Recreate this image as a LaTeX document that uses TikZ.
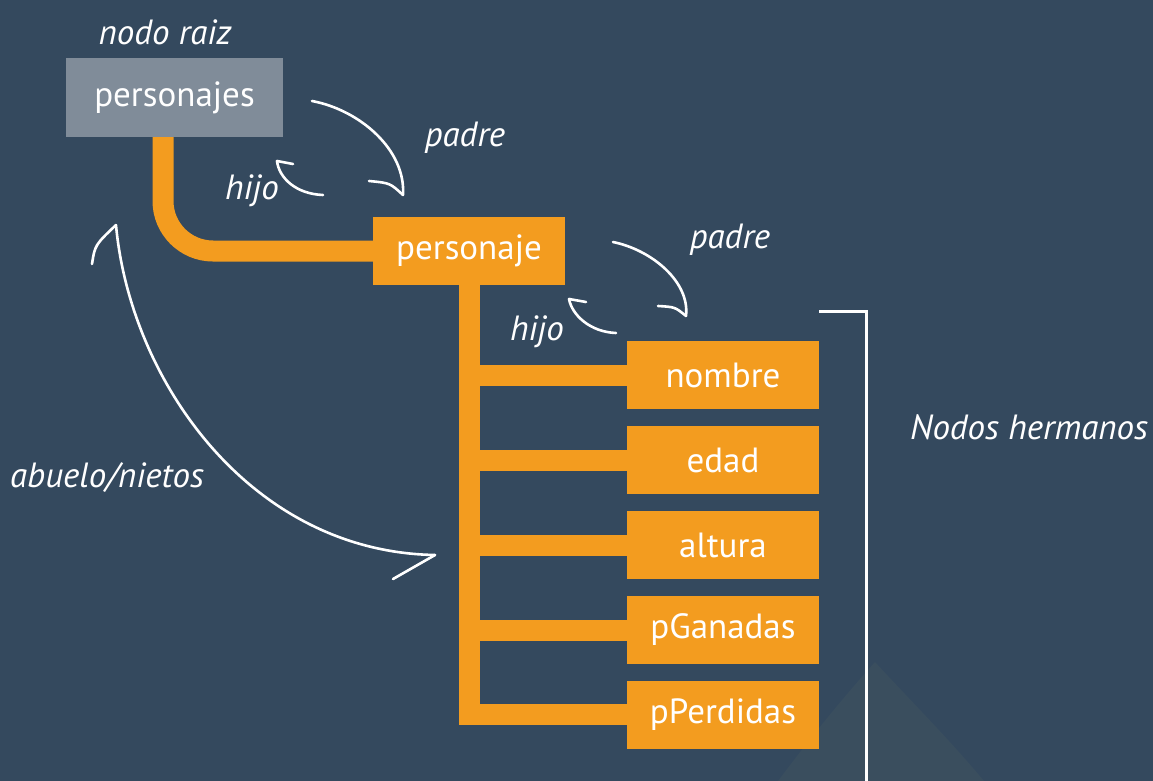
\documentclass[tikz,border=0pt]{standalone}
\usepackage{fontspec}
\setmainfont{PT Sans}
\definecolor{bgblue}{HTML}{34495E}
\definecolor{hill}{HTML}{3A4E5E}
\definecolor{tone}{HTML}{F39C1F}
\definecolor{rootgray}{HTML}{808C99}
\tikzset{
  rootbox/.style={fill=rootgray, text=white, minimum width=217pt, minimum height=79pt, inner sep=0pt, font=\fontsize{35}{40}\selectfont},
  orbox/.style={fill=tone, text=white, minimum width=192pt, minimum height=68pt, inner sep=0pt, font=\fontsize{35}{40}\selectfont},
  conn/.style={draw=tone, line width=21pt},
  lab/.style={text=white, font=\itshape\fontsize{35}{40}\selectfont, inner sep=0pt},
  hook/.style={draw=white, line width=2.6pt, line cap=round}
}
\begin{document}
\begin{tikzpicture}[x=1pt,y=-1pt]
\useasboundingbox (0,0) rectangle (1153,781);
\fill[bgblue] (0,0) rectangle (1153,781);
% faint hill in the lower right
\fill[hill] (778,781) .. controls (820,725) and (850,690) .. (875,662)
            .. controls (910,700) and (950,740) .. (984,781) -- cycle;

% nodes
\node[rootbox] (root) at (174.5,97.5) {\raisebox{2pt}{personajes}};
\node[orbox] (obj) at (469,251) {personaje};
\node[orbox] (c1) at (723,375) {nombre};
\node[orbox] (c2) at (723,460) {edad};
\node[orbox] (c3) at (723,545) {altura};
\node[orbox] (c4) at (723,630) {pGanadas};
\node[orbox] (c5) at (723,714.5) {pPerdidas};

% orange tree links
\draw[conn, rounded corners=50pt] ([xshift=-11.5pt]root.south) |- (obj.west);
\draw[conn] (obj.south) |- (c5.west);
\foreach \c in {c1,c2,c3,c4}{
  \draw[conn] (obj.south |- \c.west) -- (\c.west);
}

% sibling bracket
\coordinate (bt) at (819,311);
\coordinate (bb) at (866,790);
\draw[white, line width=3pt] (bt) -| (bb);

% labels
\node[lab] (lroot) at (165,32) {nodo raiz};
\node[lab] (lp1) at (465,138) {padre};
\node[lab] (lh1) at (252,191) {hijo};
\node[lab] (lp2) at (730,240) {padre};
\node[lab] (lh2) at (537,332) {hijo};
\node[lab] (lab5) at (107,478) {abuelo/nietos};
\node[lab] (lsib) at (1029,427) {Nodos hermanos};

% curved relation arrows
\draw[hook] (312,101) .. controls (360,110) and (406,150) .. (403,195);
\draw[hook] (369,181) .. controls (390,183) .. (403,195);
\draw[hook] (323,195) .. controls (296,194) and (279,178) .. (277,161);
\draw[hook] (277,161) -- (293,164);

\draw[hook] (613,242) .. controls (652,250) and (690,282) .. (686,316);
\draw[hook] (658,306) .. controls (675,307) .. (686,316);
\draw[hook] (616,333) .. controls (590,332) and (572,315) .. (569,299);
\draw[hook] (569,299) -- (586,302);

\draw[hook] (116,225) .. controls (130,380) and (250,552) .. (435,555);
\draw[hook] (92,264) .. controls (95,245) .. (116,225);
\draw[hook] (393,579) -- (435,555);
\end{tikzpicture}
\end{document}
